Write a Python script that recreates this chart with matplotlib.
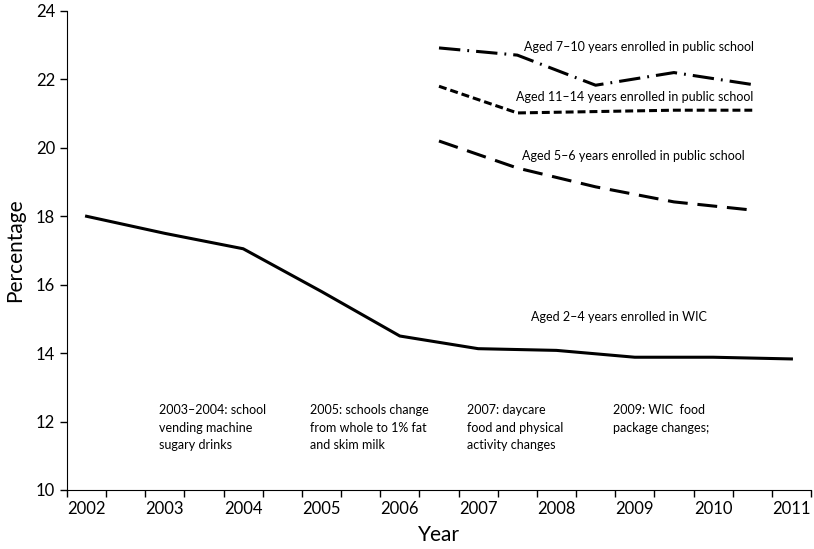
import matplotlib.pyplot as plt
from matplotlib.ticker import MultipleLocator, FixedLocator

plt.rcParams['font.family'] = ['Lato', 'DejaVu Sans']

years = [2002, 2003, 2004, 2005, 2006, 2007, 2008, 2009, 2010, 2011]
wic_2_4 = [18.0, 17.5, 17.05, 15.8, 14.5, 14.13, 14.08, 13.88, 13.88, 13.83]

school_years = [2006.5, 2007.5, 2008.5, 2009.5, 2010.5]
school_7_10 = [22.92, 22.71, 21.83, 22.2, 21.85]
school_11_14 = [21.8, 21.02, 21.06, 21.1, 21.1]
school_5_6 = [20.2, 19.41, 18.86, 18.42, 18.18]

series_labels = [
    (2007.59, 22.95, "Aged 7\u201310 years enrolled in public school"),
    (2007.48, 21.5, "Aged 11\u201314 years enrolled in public school"),
    (2007.56, 19.75, "Aged 5\u20136 years enrolled in public school"),
    (2007.68, 15.05, "Aged 2\u20134 years enrolled in WIC"),
]

policy_notes = [
    (2002.93, "2003\u20132004: school\nvending machine\nsugary drinks"),
    (2004.85, "2005: schools change\nfrom whole to 1% fat\nand skim milk"),
    (2006.86, "2007: daycare\nfood and physical\nactivity changes"),
    (2008.72, "2009: WIC  food\npackage changes;"),
]

fig = plt.figure(figsize=(8.14, 5.49), dpi=100)
ax = fig.add_axes([0.0823, 0.1075, 0.914, 0.8725])

ax.plot(years, wic_2_4, color='black', lw=2.2, solid_joinstyle='miter')
ax.plot(school_years, school_7_10, color='black', lw=2.2,
        linestyle=(0, (7, 2.3, 0.6, 2.3)))
ax.plot(school_years, school_11_14, color='black', lw=2.2,
        linestyle=(0, (2.6, 1.3)))
ax.plot(school_years, school_5_6, color='black', lw=2.2,
        linestyle=(0, (6.5, 3.2)))

for x, y, s in series_labels:
    ax.text(x, y, s, fontsize=9, ha='left', va='center')

for x, s in policy_notes:
    ax.text(x, 12.5, s, fontsize=9, ha='left', va='top', linespacing=1.55)

ax.set_xlim(2001.75, 2011.25)
ax.set_ylim(10, 24)
ax.xaxis.set_major_locator(FixedLocator(years))
ax.xaxis.set_minor_locator(FixedLocator([2001.75 + 0.5 * j for j in range(20)]))
ax.tick_params(axis='x', which='major', length=0, labelsize=12, pad=8)
ax.tick_params(axis='x', which='minor', length=5, width=1, direction='out')
ax.yaxis.set_major_locator(MultipleLocator(2))
ax.tick_params(axis='y', length=5, width=1, direction='out', labelsize=12)

ax.spines['top'].set_visible(False)
ax.spines['right'].set_visible(False)
ax.set_xlabel("Year", fontsize=15, labelpad=6)
ax.set_ylabel("Percentage", fontsize=15, labelpad=8)

fig.savefig("out.png", dpi=100)
